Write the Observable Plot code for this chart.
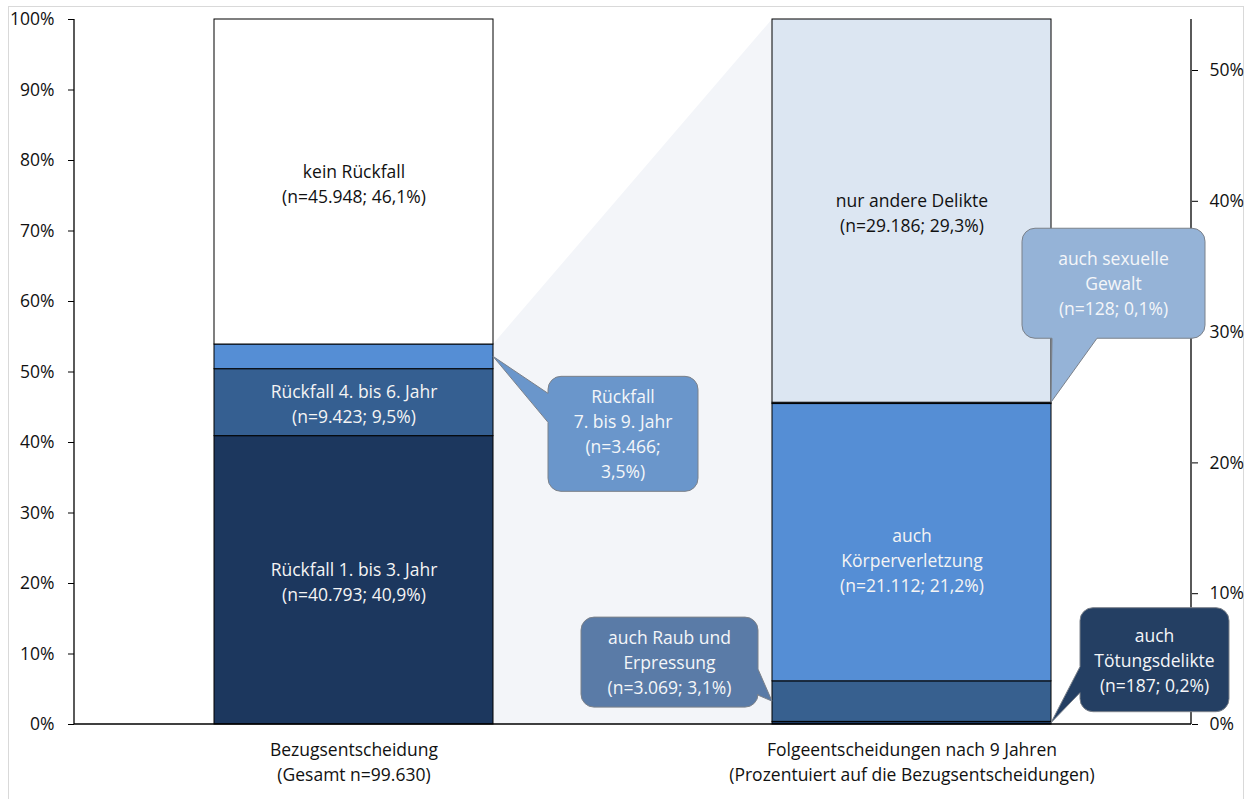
<!DOCTYPE html>
<html><head><meta charset="utf-8">
<script src="https://cdn.jsdelivr.net/npm/d3@7"></script>
<script src="https://cdn.jsdelivr.net/npm/@observablehq/plot@0.6"></script>
<style>body{margin:0;background:#fff}#chart{width:1251px;height:799px}</style>
</head><body><div id="chart"></div>
<script>
// ---------- data ----------
const categories = [
  "Bezugsentscheidung\n(Gesamt n=99.630)",
  "Folgeentscheidungen nach 9 Jahren\n(Prozentuiert auf die Bezugsentscheidungen)"
];
const leftGroups = ["Rückfall 1. bis 3. Jahr", "Rückfall 4. bis 6. Jahr", "Rückfall 7. bis 9. Jahr", "kein Rückfall"];
const leftN = [40793, 9423, 3466, 45948];
const leftPct = [40.9, 9.5, 3.5, 46.1];
const leftInBar = [true, true, false, true];

const rightGroups = ["auch Tötungsdelikte", "auch Raub und Erpressung", "auch Körperverletzung", "auch sexuelle Gewalt", "nur andere Delikte"];
const rightN = [187, 3069, 21112, 128, 29186];
const rightPct = [0.2, 3.1, 21.2, 0.1, 29.3];
const rightInBar = [false, false, true, false, true];

const leftTicks = [0, 10, 20, 30, 40, 50, 60, 70, 80, 90, 100];
const rightTicks = [0, 10, 20, 30, 40, 50];

// ---------- styles ----------
const leftColors = ["#1c375e", "#355f91", "#558ed5", "#ffffff"];
const rightColors = ["#1c375e", "#37608f", "#558ed5", "#8db3e2", "#dce6f2"];
const FONT = "'Open Sans', Lato, sans-serif";
const FS = 17.5;
const LH = 25 / FS;

// ---------- helpers ----------
const fmtN = d3.formatLocale({decimal: ",", thousands: ".", grouping: [3], currency: ["", " €"]}).format(",d");
const fmtP = p => p.toFixed(1).replace(".", ",");
const nLine = (n, p) => `(n=${fmtN(n)}; ${fmtP(p)}%)`;
const k = 100 / d3.sum(rightPct); // secondary axis: right bar fills the full height
const leftVals = leftPct;
const rightVals = rightPct.map(v => v * k);
const textColor = c => d3.hsl(c).l < 0.7 ? "#f4f4f4" : "#111";

const rows = [
  ...leftGroups.map((g, i) => ({cat: categories[0], group: g, value: leftVals[i], color: leftColors[i],
    label: leftInBar[i] ? `${g}\n${nLine(leftN[i], leftPct[i])}` : "", tc: textColor(leftColors[i])})),
  ...rightGroups.map((g, i) => ({cat: categories[1], group: g, value: rightVals[i], color: rightColors[i],
    label: rightInBar[i] ? `${g.replace("auch ", "auch\n")}\n${nLine(rightN[i], rightPct[i])}` : "", tc: textColor(rightColors[i])}))
];
const isKV = d => d.group === "auch Körperverletzung";

// callout annotations (layout relative to the pointed-to segment)
const callouts = [
  {bar: 0, vals: leftVals, idx: 2, at: "mid", edge: "right",
   lines: ["Rückfall", "7. bis 9. Jahr", `(n=${fmtN(leftN[2])};`, `${fmtP(leftPct[2])}%)`],
   fill: "#6a96cb", dx: 55, dy: 20, w: 150, h: 115, side: "left", base: [17, 46]},
  {bar: 1, vals: rightVals, idx: 3, at: "top", edge: "right",
   lines: ["auch sexuelle", "Gewalt", nLine(rightN[3], rightPct[3])],
   fill: "#95b3d7", dx: -29, dy: -174, w: 183, h: 110, side: "bottom", base: [30, 75]},
  {bar: 1, vals: rightVals, idx: 1, at: "mid", edge: "left",
   lines: ["auch Raub und", "Erpressung", nLine(rightN[1], rightPct[1])],
   fill: "#5a7ba7", dx: -191, dy: -84, w: 177, h: 90, side: "right", base: [52, 78]},
  {bar: 1, vals: rightVals, idx: 0, at: "mid", edge: "right",
   lines: ["auch", "Tötungsdelikte", nLine(rightN[0], rightPct[0])],
   fill: "#243f63", dx: 29, dy: -115, w: 149, h: 104, side: "left", base: [59, 85]}
];

function bw(sx) { return typeof sx.bandwidth === "function" ? sx.bandwidth() : sx.bandwidth; }

function calloutPath(x, y, w, h, r, side, a, b, tx, ty) {
  let p = `M${x + r},${y}H${x + w - r}A${r},${r} 0 0 1 ${x + w},${y + r}`;
  if (side === "right") p += `V${y + a}L${tx},${ty}L${x + w},${y + b}`;
  p += `V${y + h - r}A${r},${r} 0 0 1 ${x + w - r},${y + h}`;
  if (side === "bottom") p += `H${x + b}L${tx},${ty}L${x + a},${y + h}`;
  p += `H${x + r}A${r},${r} 0 0 1 ${x},${y + h - r}`;
  if (side === "left") p += `V${y + b}L${tx},${ty}L${x},${y + a}`;
  p += `V${y + r}A${r},${r} 0 0 1 ${x + r},${y}Z`;
  return p;
}

const frameMark = (index, scales, values, dim) => {
  const g = d3.create("svg:g");
  g.append("rect").attr("x", 8.5).attr("y", 6.5).attr("width", dim.width - 16).attr("height", dim.height + 20)
    .attr("fill", "none").attr("stroke", "#d9d9d9");
  return g.node();
};

const connectorMark = (index, scales) => {
  const sx = scales.x, sy = scales.y;
  const x1 = sx(categories[0]) + bw(sx), x2 = sx(categories[1]);
  const g = d3.create("svg:g");
  g.append("path")
    .attr("d", `M${x1},${sy(d3.sum(leftVals.slice(0, 3)))}L${x2},${sy(d3.sum(rightVals))}L${x2},${sy(0)}L${x1},${sy(0)}Z`)
    .attr("fill", "#f3f5f9");
  return g.node();
};

const axisLines = (index, scales, values, dim) => {
  const {width, height, marginLeft, marginRight, marginTop, marginBottom} = dim;
  const g = d3.create("svg:g").attr("stroke", "#000").attr("stroke-width", 1.3);
  const xl = marginLeft, xr = width - marginRight, yb = height - marginBottom;
  g.append("line").attr("x1", xl).attr("x2", xl).attr("y1", marginTop).attr("y2", yb);
  g.append("line").attr("x1", xr).attr("x2", xr).attr("y1", marginTop).attr("y2", yb);
  g.append("line").attr("x1", xl).attr("x2", xr).attr("y1", yb).attr("y2", yb);
  return g.node();
};

const calloutMark = (index, scales) => {
  const sx = scales.x, sy = scales.y;
  const g = d3.create("svg:g");
  for (const c of callouts) {
    const left = sx(categories[c.bar]);
    const tx = c.edge === "right" ? left + bw(sx) : left;
    const v = c.at === "mid" ? d3.sum(c.vals.slice(0, c.idx)) + c.vals[c.idx] / 2 : d3.sum(c.vals.slice(0, c.idx + 1));
    const ty = sy(v);
    const bx = tx + c.dx, by = ty + c.dy;
    g.append("path").attr("d", calloutPath(bx, by, c.w, c.h, 13, c.side, c.base[0], c.base[1], tx, ty))
      .attr("fill", c.fill).attr("stroke", "#7b818a").attr("stroke-width", 1);
    const lh = 25, cy = by + c.h / 2 + 1;
    const t = g.append("text").attr("text-anchor", "middle").attr("fill", "#f4f6f9")
      .attr("font-family", FONT).attr("font-size", FS);
    c.lines.forEach((s, i) => {
      t.append("tspan").attr("x", bx + c.w / 2).attr("y", cy + (i - (c.lines.length - 1) / 2) * lh)
        .attr("dy", "0.35em").text(s);
    });
  }
  return g.node();
};

const chart = Plot.plot({
  width: 1251,
  height: 799,
  marginLeft: 74,
  marginRight: 60,
  marginTop: 19,
  marginBottom: 75,
  style: {fontFamily: FONT, fontSize: FS + "px", color: "#111", background: "#fff"},
  x: {domain: categories, paddingInner: 0.5, paddingOuter: 0.25, label: null},
  y: {domain: [0, 100], label: null},
  color: {type: "identity"},
  marks: [
    frameMark,
    connectorMark,
    Plot.barY(rows, {x: "cat", y: "value", fill: "color", stroke: "#000", strokeWidth: 1}),
    Plot.text(rows, Plot.stackY({x: "cat", y: "value", text: d => isKV(d) ? "" : d.label, fill: "tc", fontSize: FS, lineHeight: LH})),
    Plot.text(rows, Plot.stackY({x: "cat", y: "value", text: d => isKV(d) ? d.label : "", fill: "tc", fontSize: FS, lineHeight: LH, dy: 16})),
    axisLines,
    Plot.axisY(leftTicks, {anchor: "left", tickSize: 6, tickPadding: 14, tickFormat: d => d + "%", fontSize: FS, label: null, stroke: "#000"}),
    Plot.axisY(rightTicks.map(v => v * k), {anchor: "right", tickSize: 6, tickPadding: 12, tickFormat: d => Math.round(d / k) + "%", fontSize: FS, label: null, stroke: "#000"}),
    Plot.axisX({anchor: "bottom", tickSize: 0, tickPadding: 14, fontSize: FS, lineHeight: LH, label: null}),
    calloutMark
  ]
});
document.getElementById("chart").append(chart);
</script>
</body></html>
